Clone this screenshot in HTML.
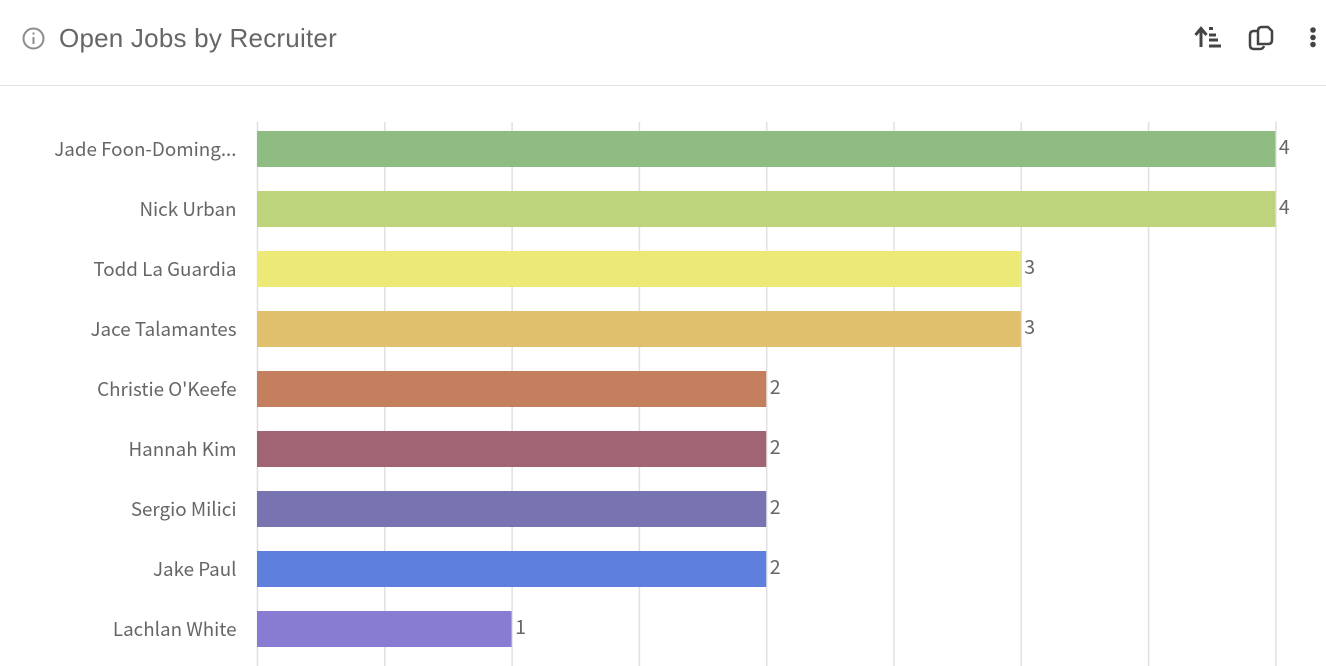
<!DOCTYPE html>
<html lang="en">
<head>
<meta charset="utf-8">
<title>Open Jobs by Recruiter</title>
<style>
html,body{margin:0;padding:0;background:#fff;width:1326px;height:666px;overflow:hidden}
svg{display:block}
.title{font-family:"Liberation Sans",sans-serif;font-size:26px;letter-spacing:0.22px;fill:#666}
.cat{font-family:"Noto Sans CJK JP","Liberation Sans",sans-serif;font-size:18.8px;fill:#666;text-anchor:end}
.val{font-family:"Noto Sans CJK JP","Liberation Sans",sans-serif;font-size:19.5px;fill:#666}
</style>
</head>
<body>
<svg id="chart" width="1326" height="666" viewBox="0 0 1326 666" xmlns="http://www.w3.org/2000/svg">
  <g fill="none" stroke="#8c8c8c">
    <circle cx="33.5" cy="38.5" r="10" stroke-width="2"/>
    <line x1="33.5" y1="37" x2="33.5" y2="44" stroke-width="2"/>
    <line x1="33.5" y1="32.5" x2="33.5" y2="34.5" stroke-width="2"/>
  </g>
  <text class="title" x="59" y="47">Open Jobs by Recruiter</text>
  <g stroke="#444" stroke-width="3" fill="none">
    <path d="M1201 47V29M1195.500 35L1201 28.500L1206.500 35" stroke-width="3"/>
    <line x1="1209" y1="28.500" x2="1213" y2="28.500"/>
    <line x1="1209" y1="35" x2="1216" y2="35"/>
    <line x1="1209" y1="40" x2="1218" y2="40"/>
    <line x1="1209" y1="46" x2="1221" y2="46"/>
  </g>
  <g stroke="#444" stroke-width="2.500" fill="none">
    <path d="M1258 31H1254Q1250 31 1250 35V45Q1250 49 1254 49H1260Q1263 49 1264 46"/>
    <path d="M1258 44Q1258 43 1258 41V31Q1258 27 1262 27H1268L1272 31V40Q1272 44 1268 44Z"/>
  </g>
  <g fill="#444">
    <circle cx="1313" cy="30" r="2.800"/>
    <circle cx="1313" cy="37.500" r="2.800"/>
    <circle cx="1313" cy="44.500" r="2.800"/>
  </g>
  <rect x="0" y="85" width="1326" height="1" fill="#e2e2e2"/>
  <g id="grid"></g>
  <g id="bars"></g>
</svg>
<script>
const categories = ["Jade Foon-Doming...", "Nick Urban", "Todd La Guardia", "Jace Talamantes", "Christie O'Keefe", "Hannah Kim", "Sergio Milici", "Jake Paul", "Lachlan White"];
const openJobs = [4, 4, 3, 3, 2, 2, 2, 2, 1];
const barColors = ["#8fbc82", "#bdd47d", "#ece977", "#e0c06d", "#c47f5e", "#a06472", "#7874b2", "#5f7fdd", "#877cd2"];
const gridTicks = [0, 0.5, 1, 1.5, 2, 2.5, 3, 3.5, 4];

const NS = "http://www.w3.org/2000/svg";
const x0 = 257.5, unit = 254.6, bandTop = 119, bandStep = 60, barH = 36;
const xScale = v => x0 + v * unit;
const yScale = i => bandTop + i * bandStep + 12;

const grid = document.getElementById("grid");
gridTicks.forEach(t => {
  const l = document.createElementNS(NS, "line");
  
  
  l.setAttribute("x1", xScale(t));
  l.setAttribute("x2", xScale(t));
  l.setAttribute("y1", 122);
  l.setAttribute("y2", 666);
  l.setAttribute("stroke", "#e0e0e0");
  l.setAttribute("stroke-width", "1.5");
  grid.appendChild(l);
});

const bars = document.getElementById("bars");
categories.forEach((name, i) => {
  const y = yScale(i), v = openJobs[i];
  const r = document.createElementNS(NS, "rect");
  
  
  r.setAttribute("x", x0 - 0.5);
  r.setAttribute("y", y);
  r.setAttribute("width", xScale(v) - x0);
  r.setAttribute("height", barH);
  r.setAttribute("fill", barColors[i]);
  bars.appendChild(r);

  const c = document.createElementNS(NS, "text");
  
  
  c.setAttribute("class", "cat");
  c.setAttribute("x", 236.5);
  c.setAttribute("y", y + 25);
  c.textContent = name;
  bars.appendChild(c);

  const t = document.createElementNS(NS, "text");
  
  
  t.setAttribute("class", "val");
  t.setAttribute("x", xScale(v) + 3);
  t.setAttribute("y", y + 23);
  t.textContent = v;
  bars.appendChild(t);
});
</script>
</body>
</html>
